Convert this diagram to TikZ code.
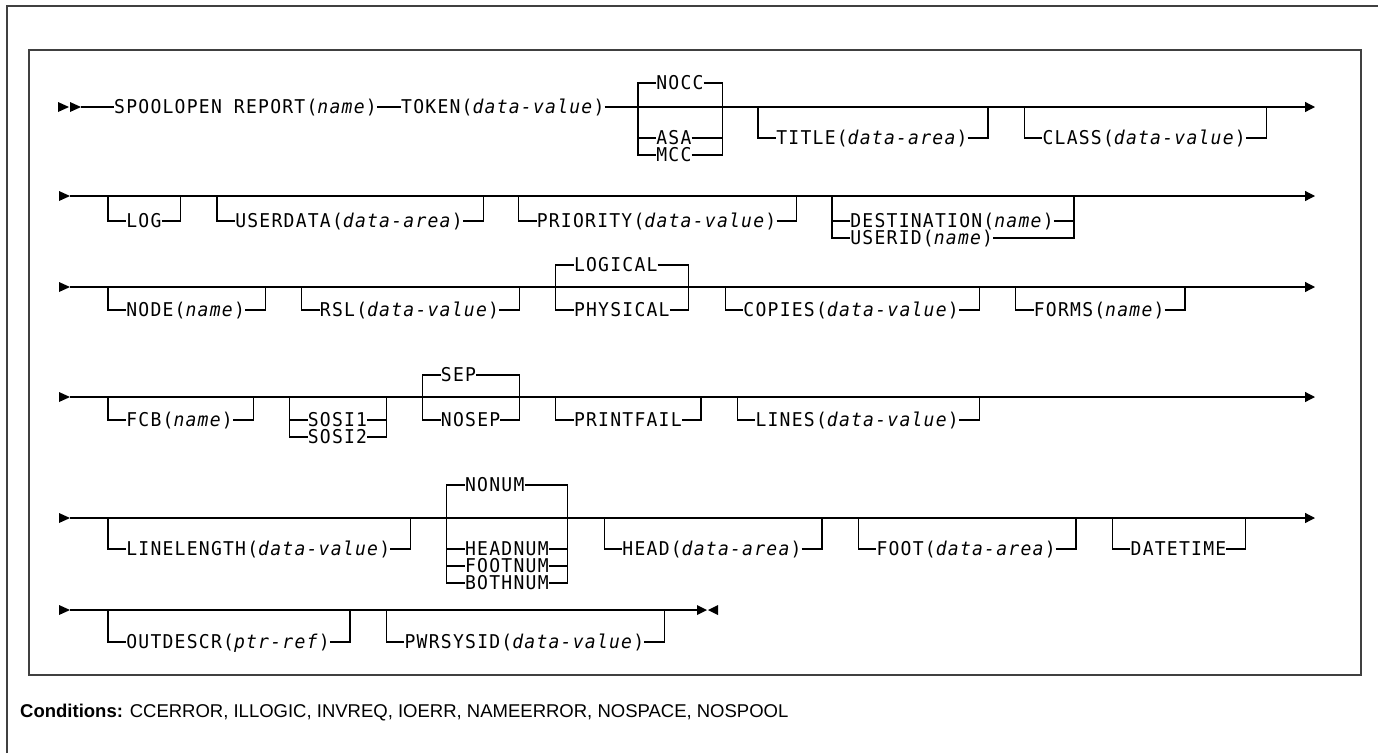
\documentclass[tikz,border=0pt]{standalone}
\usepackage{fontspec}
\setmainfont{Liberation Sans}
\newfontfamily\synfont[FakeStretch=0.95,LetterSpace=6.5,ItalicFont={DejaVu Sans Mono Oblique}]{DejaVu Sans Mono}
\usetikzlibrary{arrows.meta}

\def\cw{12.1}
\newcommand{\synsize}{\fontsize{19pt}{21pt}\selectfont}
\colorlet{frameColor}{black!75}

% one branch of a rail: name, left x, cells of widest text, main y, branch y, text
\newcommand{\branch}[6]{%
  \node[kw] (#1) at ({#2+1.5*\cw},#5) {#6};
  \draw[rail] (#2,#4) |- (#1.west);
  \draw[rail] (#1.east) -| ({#2+(#3+3)*\cw},#4);
}

\tikzset{
  kw/.style={font=\synfont\synsize, inner sep=0pt, anchor=west,
    text height=14.5pt, text depth=0.7pt},
  rail/.style={line width=1.2pt},
  railend/.style={rail, -{Triangle[length=10pt,width=10pt]}},
}

\begin{document}
\begin{tikzpicture}[x=1pt, y=-1pt]
    \useasboundingbox (0,0) rectangle (1378,753);

    \draw[line width=2pt, frameColor] (7,753) -- (7,6) -- (1378,6);
    \draw[line width=2.4pt, frameColor] (29,50) rectangle (1361,675);

    % row starts
    \fill (58,102) -- (69,107) -- (58,112) -- cycle;
    \fill (70,102) -- (81,107) -- (70,112) -- cycle;
    \foreach \y in {196,287,397,518,610}
        \fill (59,{\y-5}) -- (70,\y) -- (59,{\y+5}) -- cycle;

    % row 1
    \coordinate (start) at (81,107);
    \coordinate (end1) at (1315,107);
    \node[kw] (sp) at (114,107) {SPOOLOPEN REPORT(\textit{name})};
    \node[kw] (tok) at (401,107) {TOKEN(\textit{data-value})};
    \draw[rail] (start) -- (sp.west);
    \draw[rail] (sp.east) -- (tok.west);
    \draw[railend] (tok.east) -- (end1);
    \branch{nocc}{638}{4}{107}{83}{NOCC}
    \branch{asa}{638}{4}{107}{138}{ASA}
    \branch{mcc}{638}{4}{107}{155}{MCC}
    \branch{title}{758}{16}{107}{138}{TITLE(\textit{data-area})}
    \branch{class}{1024.2}{17}{107}{138}{CLASS(\textit{data-value})}

    % rows 2 to 5
    \foreach \y in {196,287,397,518}
        \draw[railend] (70,\y) -- (1315,\y);

    \branch{log}{108}{3}{196}{221}{LOG}
    \branch{userdata}{216.9}{19}{196}{221}{USERDATA(\textit{data-area})}
    \branch{priority}{518.4}{20}{196}{221}{PRIORITY(\textit{data-value})}
    \branch{dest}{832}{17}{196}{221}{DESTINATION(\textit{name})}
    \branch{userid}{832}{17}{196}{238}{USERID(\textit{name})}

    \branch{nodeopt}{108}{10}{287}{310}{NODE(\textit{name})}
    \branch{rsl}{301.6}{15}{287}{310}{RSL(\textit{data-value})}
    \branch{logical}{555.7}{8}{287}{265}{LOGICAL}
    \branch{physical}{555.7}{8}{287}{310}{PHYSICAL}
    \branch{copies}{725.1}{18}{287}{310}{COPIES(\textit{data-value})}
    \branch{forms}{1015.5}{11}{287}{310}{FORMS(\textit{name})}

    \branch{fcb}{108}{9}{397}{420}{FCB(\textit{name})}
    \branch{sosia}{289.5}{5}{397}{420}{SOSI1}
    \branch{sosib}{289.5}{5}{397}{437}{SOSI2}
    \branch{sep}{422.6}{5}{397}{375}{SEP}
    \branch{nosep}{422.6}{5}{397}{420}{NOSEP}
    \branch{printfail}{555.7}{9}{397}{420}{PRINTFAIL}
    \branch{lines}{737.2}{17}{397}{420}{LINES(\textit{data-value})}

    \branch{linelength}{108}{22}{518}{549}{LINELENGTH(\textit{data-value})}
    \branch{nonum}{446.8}{7}{518}{485}{NONUM}
    \branch{headnum}{446.8}{7}{518}{549}{HEADNUM}
    \branch{footnum}{446.8}{7}{518}{566}{FOOTNUM}
    \branch{bothnum}{446.8}{7}{518}{583}{BOTHNUM}
    \branch{head}{604.1}{15}{518}{549}{HEAD(\textit{data-area})}
    \branch{foot}{858.2}{15}{518}{549}{FOOT(\textit{data-area})}
    \branch{datetime}{1112.3}{8}{518}{549}{DATETIME}

    % row 6
    \coordinate (stop) at (697,610);
    \draw[rail] (70,610) -- (stop);
    \branch{outdescr}{108}{17}{610}{642}{OUTDESCR(\textit{ptr-ref})}
    \branch{pwrsysid}{386.3}{20}{610}{642}{PWRSYSID(\textit{data-value})}
    \fill (stop) ++(0,-5) -- ++(10,5) -- ++(-10,5) -- cycle;
    \fill (stop) ++(21,-5) -- ++(-10,5) -- ++(10,5) -- cycle;

    \node[anchor=base west, inner sep=0pt, font=\fontsize{18.5pt}{20pt}\selectfont] (cond) at (20,717)
        {\textbf{Conditions:} CCERROR, ILLOGIC, INVREQ, IOERR, NAMEERROR, NOSPACE, NOSPOOL};
\end{tikzpicture}
\end{document}
